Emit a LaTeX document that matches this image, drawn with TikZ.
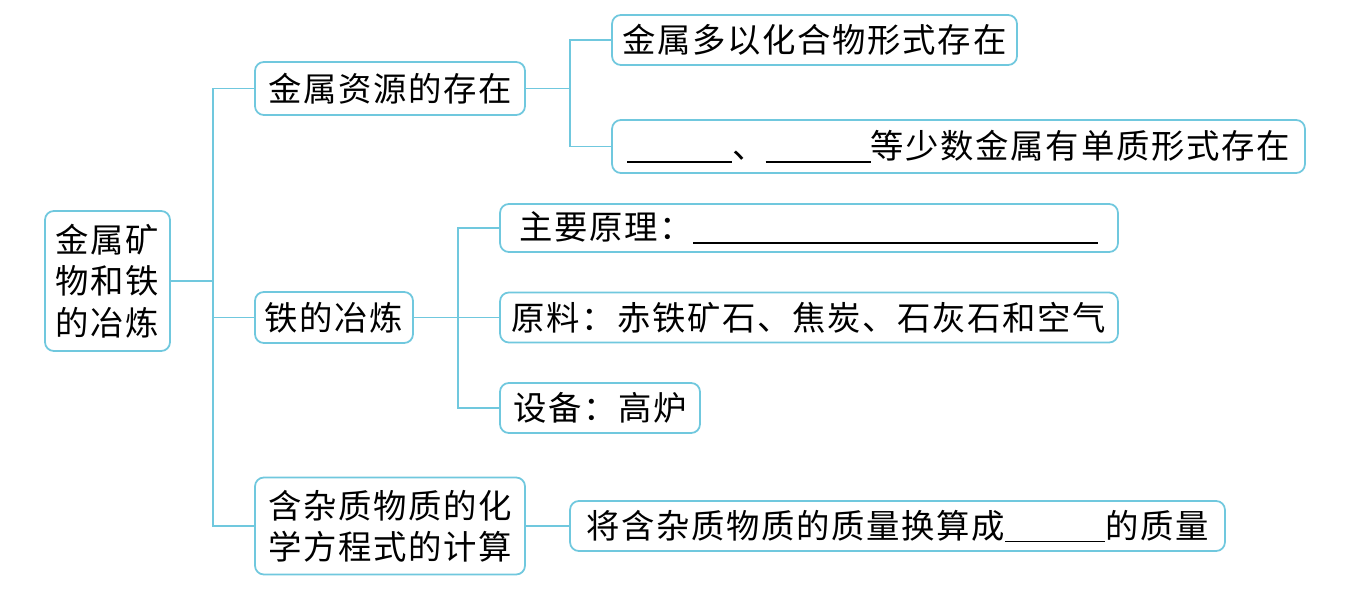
\documentclass[tikz,border=0pt]{standalone}
\usepackage{fontspec}
\setmainfont{Noto Sans CJK SC}[LetterSpace=5]
\usetikzlibrary{positioning}
\definecolor{linkblue}{RGB}{112,200,222}
\newcommand{\blank}[1]{\rule[-0.12em]{#1}{0.9pt}}
\tikzset{
	topic/.style={draw=linkblue, line width=1pt, rounded corners=5pt, inner sep=0pt, align=center, font=\fontsize{19pt}{23.5pt}\selectfont},
	link/.style={draw=linkblue, line width=1pt}
}

\begin{document}
\begin{tikzpicture}[x=0.02cm, y=-0.02cm]
			\fill[white] (0,0) rectangle (1364,597);
			% plain node definitions
			\node[topic, minimum width=2.5cm, minimum height=2.8cm] (root) at (107.5,281) {金属矿\\物和铁\\的冶炼};
			\node[topic, minimum width=5.4cm, minimum height=1.06cm] (res) at (390,88.5) {金属资源的存在};
			\node[topic, minimum width=8.1cm, minimum height=1cm] (res1) at (814.5,40) {金属多以化合物形式存在};
			\node[topic, minimum width=13.86cm, minimum height=1.06cm] (res2) at (958.5,146.5) {\blank{2.1cm}、\blank{2.1cm}等少数金属有单质形式存在};
			\node[topic, minimum width=3.16cm, minimum height=1.02cm] (iron) at (334,317.5) {铁的冶炼};
			\node[topic, minimum width=12.36cm, minimum height=0.96cm] (iron1) at (809,228) {主要原理：\blank{8.1cm}};
			\node[topic, minimum width=12.36cm, minimum height=1cm] (iron2) at (809,317.5) {原料：赤铁矿石、焦炭、石灰石和空气};
			\node[topic, minimum width=4cm, minimum height=1cm] (iron3) at (600,408) {设备：高炉};
			\node[topic, minimum width=5.4cm, minimum height=1.94cm] (calc) at (390,526) {含杂质物质的化\\学方程式的计算};
			\node[topic, minimum width=13.1cm, minimum height=1cm] (calc1) at (897.5,526) {将含杂质物质的质量换算成\blank{2cm}的质量};

			% forks
			\coordinate (trunk) at (213,281);
			\coordinate (resfork) at (570,88.5);
			\coordinate (ironfork) at (458,317.5);

			% connectors
			\draw[link] (root.east) -- (trunk);
			\draw[link] (trunk) |- (res.west);
			\draw[link] (trunk) |- (iron.west);
			\draw[link] (trunk) |- (calc.west);
			\draw[link] (res.east) -- (resfork);
			\draw[link] (resfork) |- (res1.west);
			\draw[link] (resfork) |- (res2.west);
			\draw[link] (iron.east) -- (ironfork);
			\draw[link] (ironfork) |- (iron1.west);
			\draw[link] (ironfork) -- (iron2.west);
			\draw[link] (ironfork) |- (iron3.west);
			\draw[link] (calc.east) -- (calc1.west);
		\end{tikzpicture}
\end{document}
